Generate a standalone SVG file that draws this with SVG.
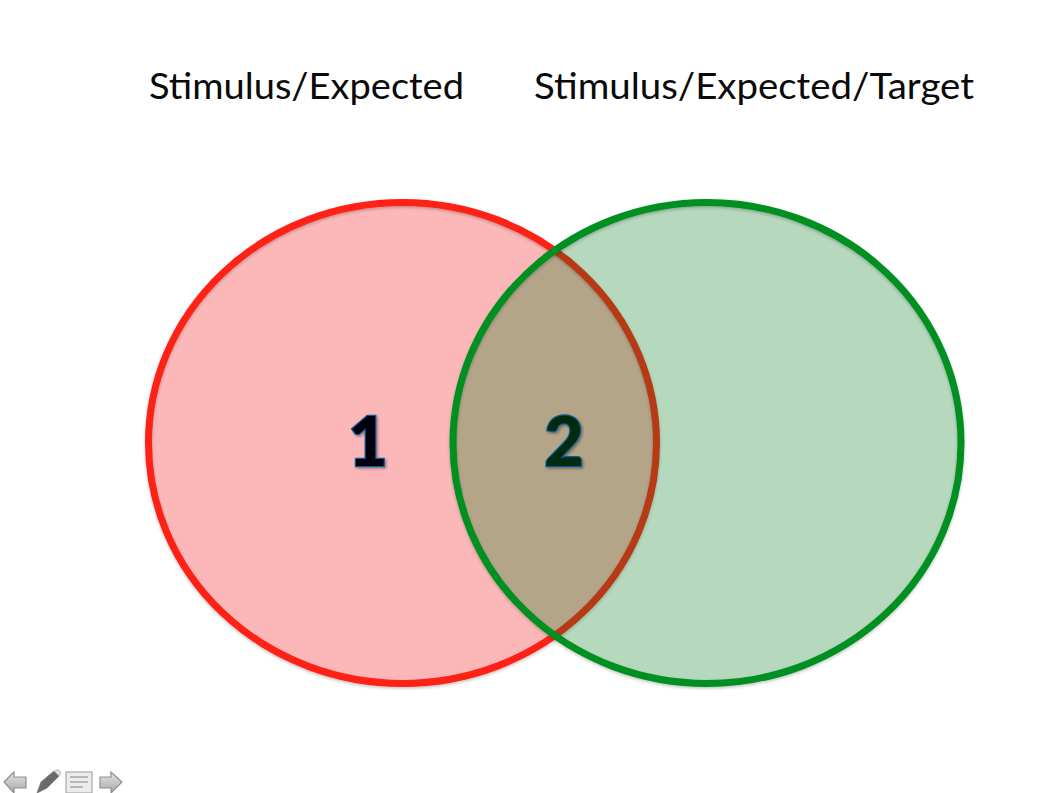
<svg xmlns="http://www.w3.org/2000/svg" width="1064" height="793" viewBox="0 0 1064 793">
<style>
.t{font-family:"Lato","Open Sans",sans-serif;font-size:37px;fill:#0a0a0a}
.n{font-family:"Lato","Open Sans",sans-serif;font-weight:900;font-size:68px;text-anchor:middle;stroke:#0f5a98;stroke-width:2.5px;paint-order:stroke;filter:url(#ts)}
.ic{fill:url(#g);stroke:#8f8f8f;stroke-width:1.2}
.o{fill:none;stroke-width:7;filter:url(#s)}
</style>
<defs>
<filter id="s" x="-5%" y="-5%" width="110%" height="110%"><feDropShadow dx="0" dy="1.5" stdDeviation="1.5" flood-color="#000" flood-opacity=".25"/></filter>
<filter id="ts" x="-30%" y="-30%" width="160%" height="160%"><feDropShadow dx="1.5" dy="1.5" stdDeviation="1.2" flood-color="#000" flood-opacity=".35"/></filter>
<linearGradient id="g" x1="0" y1="0" x2="0" y2="1"><stop offset="0" stop-color="#e4e4e4"/><stop offset="1" stop-color="#a8a8a8"/></linearGradient>
</defs>
<text class="t" x="149" y="99" textLength="315" lengthAdjust="spacingAndGlyphs">Stimulus/Expected</text>
<text class="t" x="534" y="99" textLength="440" lengthAdjust="spacingAndGlyphs">Stimulus/Expected/Target</text>
<g id="set-red"><ellipse cx="402.500" cy="443" rx="254" ry="240.500" fill="#f50000" fill-opacity=".28"/><ellipse class="o" cx="402.500" cy="443" rx="254" ry="240.500" stroke="#fe2015"/></g>
<g id="set-green"><ellipse cx="707" cy="443" rx="254" ry="240.500" fill="#007715" fill-opacity=".286"/><ellipse class="o" cx="707" cy="443" rx="254" ry="240.500" stroke="#009020"/></g>
<g id="label-1"><text class="n" x="368" y="466" fill="#00060e">1</text></g>
<g id="label-2"><text class="n" x="564" y="466" fill="#002c0a">2</text></g>
<g id="controls">
<path class="ic" d="M4 782L14 772V777H26V788H14V793Z"/>
<path d="M37 793L41 782L54 771L59 776L47 788Z" fill="#6a6a6a" stroke="#777" stroke-width=".8"/>
<path d="M54 771Q58 768 60 771Q62 774 59 776Z" fill="#dcdcdc" stroke="#aaa" stroke-width=".6"/>
<rect x="66" y="772" width="26" height="21" fill="#ececec" stroke="#a8a8a8" stroke-width="1.2"/>
<path d="M70 777H88M70 782H88M70 787H83" stroke="#a5a5a5" stroke-width="1.6" fill="none"/>
<path class="ic" d="M122 782L111 772V777H100V788H111V793Z"/>
</g>
</svg>
